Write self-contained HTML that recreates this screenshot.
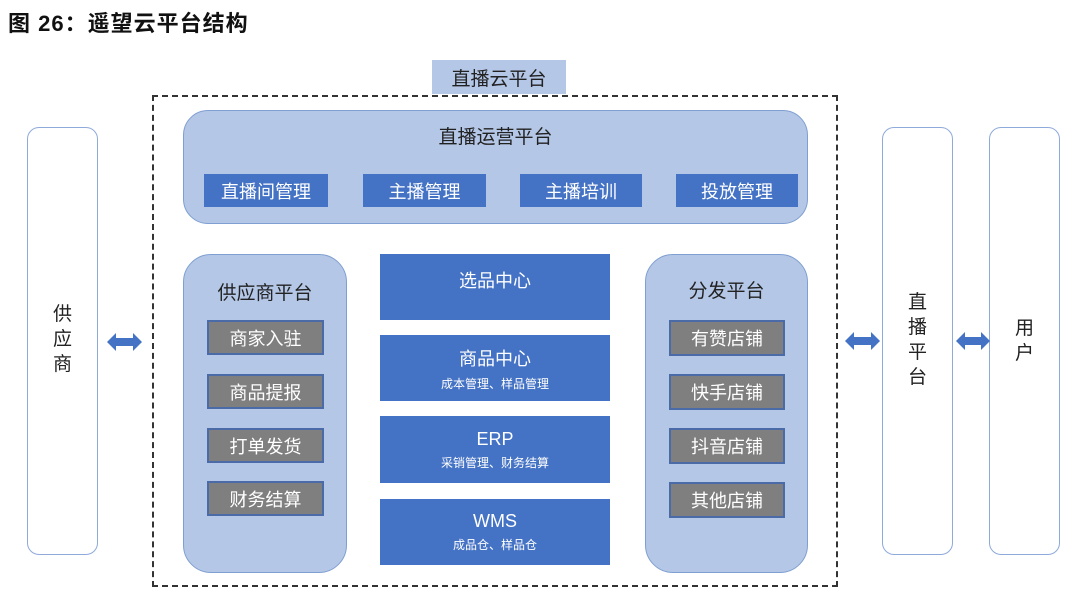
<!DOCTYPE html>
<html><head><meta charset="utf-8"><style>
body{margin:0;width:1080px;height:599px;background:#fff;position:relative;overflow:hidden;font-family:"Liberation Sans","Noto Sans CJK SC",sans-serif;}
div{position:absolute;box-sizing:border-box;}
.lb{background:#b4c7e7;border:1.5px solid #7f9fd0;}
.bb{background:#4472c4;color:#fff;font-size:18px;display:flex;align-items:center;justify-content:center;}
.gb{background:#7f7f7f;border:2px solid #4a6aa8;color:#fff;font-size:18px;display:flex;align-items:center;justify-content:center;}
.wb{background:#fff;border:1.5px solid #8eaadb;border-radius:12px;}
.vt{font-size:19px;color:#222;line-height:25px;text-align:center;width:100%;}
.c{flex-direction:column;}
.c small{font-size:12px;margin-top:4px;}
</style></head><body>
<div style="left:8px;top:6px;font-size:22px;font-weight:bold;color:#111;letter-spacing:1px">图 26：遥望云平台结构</div>
<div style="left:152px;top:95px;width:686px;height:492px;border:2px dashed #333"></div>
<div style="left:432px;top:60px;width:134px;height:34px;background:#b4c7e7;font-size:19px;color:#222;display:flex;align-items:center;justify-content:center">直播云平台</div>

<div class="lb" style="left:183px;top:110px;width:625px;height:114px;border-radius:25px"></div>
<div style="left:183px;top:122px;width:625px;text-align:center;font-size:19px;color:#222">直播运营平台</div>
<div class="bb" style="left:204px;top:174px;width:124px;height:33px">直播间管理</div>
<div class="bb" style="left:363px;top:174px;width:123px;height:33px">主播管理</div>
<div class="bb" style="left:520px;top:174px;width:122px;height:33px">主播培训</div>
<div class="bb" style="left:676px;top:174px;width:122px;height:33px">投放管理</div>

<div class="lb" style="left:183px;top:254px;width:164px;height:319px;border-radius:28px"></div>
<div style="left:183px;top:278px;width:164px;text-align:center;font-size:19px;color:#222">供应商平台</div>
<div class="gb" style="left:207px;top:320px;width:117px;height:35px">商家入驻</div>
<div class="gb" style="left:207px;top:374px;width:117px;height:35px">商品提报</div>
<div class="gb" style="left:207px;top:428px;width:117px;height:35px">打单发货</div>
<div class="gb" style="left:207px;top:481px;width:117px;height:35px">财务结算</div>

<div class="bb" style="left:380px;top:254px;width:230px;height:66px;padding-bottom:14px">选品中心</div>
<div class="bb c" style="left:380px;top:335px;width:230px;height:66px">商品中心<small>成本管理、样品管理</small></div>
<div class="bb c" style="left:380px;top:416px;width:230px;height:67px">ERP<small>采销管理、财务结算</small></div>
<div class="bb c" style="left:380px;top:499px;width:230px;height:66px">WMS<small>成品仓、样品仓</small></div>

<div class="lb" style="left:645px;top:254px;width:163px;height:319px;border-radius:28px"></div>
<div style="left:645px;top:276px;width:163px;text-align:center;font-size:19px;color:#222">分发平台</div>
<div class="gb" style="left:669px;top:320px;width:116px;height:36px">有赞店铺</div>
<div class="gb" style="left:669px;top:374px;width:116px;height:36px">快手店铺</div>
<div class="gb" style="left:669px;top:428px;width:116px;height:36px">抖音店铺</div>
<div class="gb" style="left:669px;top:482px;width:116px;height:36px">其他店铺</div>

<div class="wb" style="left:27px;top:127px;width:71px;height:428px"></div>
<div class="vt" style="left:27px;top:302px;width:71px">供<br>应<br>商</div>
<div class="wb" style="left:882px;top:127px;width:71px;height:428px"></div>
<div class="vt" style="left:882px;top:290px;width:71px">直<br>播<br>平<br>台</div>
<div class="wb" style="left:989px;top:127px;width:71px;height:428px"></div>
<div class="vt" style="left:989px;top:316px;width:71px">用<br>户</div>

<svg style="position:absolute;left:0;top:0" width="1080" height="599">
<g fill="#4472c4">
<polygon points="107,342 116,333 116,338 133,338 133,333 142,342 133,351 133,346 116,346 116,351"/>
<polygon points="845,341 854,332 854,337 871,337 871,332 880,341 871,350 871,345 854,345 854,350"/>
<polygon points="956,341 965,332 965,337 981,337 981,332 990,341 981,350 981,345 965,345 965,350"/>
</g></svg>
</body></html>
